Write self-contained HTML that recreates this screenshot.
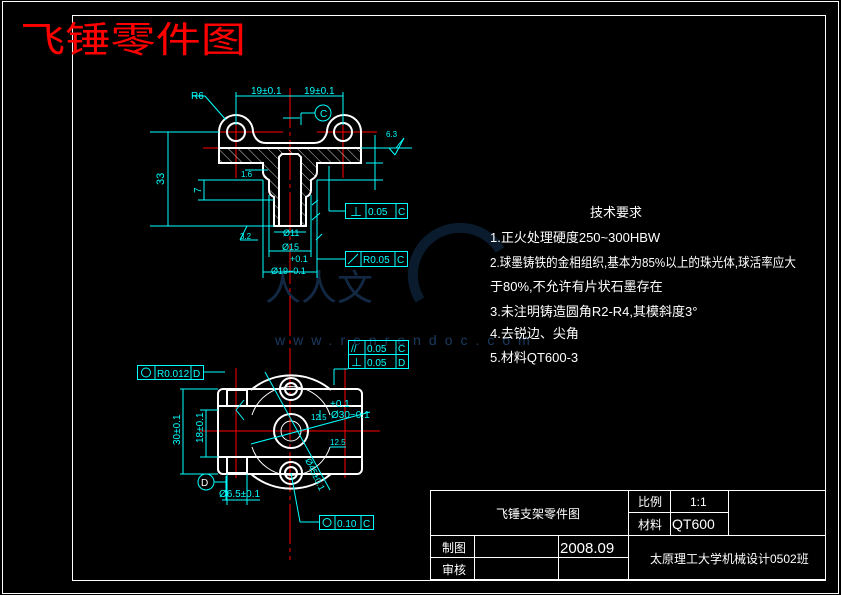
<!DOCTYPE html>
<html><head><meta charset="utf-8"><style>
html,body{margin:0;padding:0;background:#000;}
svg{display:block}
text{font-family:"Liberation Sans","Noto Sans CJK SC",sans-serif;}
</style></head><body>
<svg width="841" height="595" viewBox="0 0 841 595" xmlns="http://www.w3.org/2000/svg">
<defs>
<pattern id="h" width="7" height="7" patternUnits="userSpaceOnUse" patternTransform="rotate(-45)">
<line x1="0" y1="0" x2="0" y2="7" stroke="#fff" stroke-width="0.8"/>
</pattern>
</defs>
<rect width="841" height="595" fill="#000"/>
<!-- frames -->
<rect x="2.5" y="1.5" width="836" height="592" fill="none" stroke="#fff" stroke-width="1"/>
<rect x="72.5" y="15.5" width="753" height="565" fill="none" stroke="#fff" stroke-width="1"/>
<text x="20" y="52" font-size="36" fill="#f00" textLength="226" lengthAdjust="spacingAndGlyphs" font-family="'Noto Sans CJK SC',sans-serif">飞锤零件图</text>

<!-- watermark -->
<g opacity="0.35" fill="none" stroke="#1a4d80" stroke-width="10">
<path d="M420,300 A45,45 0 1 1 500,250"/>
</g>
<text x="265" y="300" font-size="36" fill="#1a3a60" opacity="0.7" font-family="'Noto Sans CJK SC',sans-serif">人人文</text>
<text x="275" y="345" font-size="14" fill="#1a3a60" letter-spacing="8">www.renrendoc.com</text>

<!-- ===== TOP VIEW ===== -->
<g stroke="#f00" stroke-width="1" fill="none">
<line x1="290" y1="88" x2="290" y2="560" stroke-dasharray="40,4,4,4"/>
<line x1="203" y1="132" x2="283" y2="132"/>
<line x1="317" y1="132" x2="377" y2="132"/>
<line x1="236" y1="110" x2="236" y2="178"/>
<line x1="343" y1="110" x2="343" y2="178"/>
<line x1="203" y1="148" x2="219" y2="148"/>
</g>
<path fill="url(#h)" fill-rule="evenodd" d="M219,148 L361,148 L361,163 L317,163 L317,172 Q317,177 311,180 L311,190 Q311,195 306,197 L306,226 L274,226 L274,197 Q269,195 269,190 L269,180 Q263,177 263,172 L263,163 L219,163 Z M279,154 L301,154 L301,226 L279,226 Z"/>
<g stroke="#fff" stroke-width="2" fill="none">
<path d="M219,148 L361,148 L361,163 L317,163 L317,172 Q317,177 311,180 L311,190 Q311,195 306,197 L306,226 L274,226 L274,197 Q269,195 269,190 L269,180 Q263,177 263,172 L263,163 L219,163 Z"/>
<path d="M279,226 L279,157 L282,154 L298,154 L301,157 L301,226"/>
<path d="M219,148 L219,132 A17,17 0 0 1 253,132 Q256,143 266,143 L314,143 Q324,143 327,132 A17,17 0 0 1 361,132 L361,148"/>
<circle cx="236" cy="132" r="9"/>
<circle cx="343" cy="132" r="9"/>
</g>
<g stroke="#0ff" stroke-width="1" fill="none">
<line x1="236" y1="92" x2="236" y2="125"/><line x1="343" y1="92" x2="343" y2="125"/>
<line x1="236" y1="96" x2="343" y2="96"/>
<line x1="150" y1="132" x2="219" y2="132"/><line x1="150" y1="226" x2="274" y2="226"/>
<line x1="168" y1="132" x2="168" y2="226"/>
<line x1="198" y1="180" x2="263" y2="180"/><line x1="198" y1="200" x2="274" y2="200"/>
<line x1="204" y1="180" x2="204" y2="200"/>
<line x1="192" y1="96" x2="205" y2="96"/><line x1="205" y1="96" x2="226" y2="120"/>
<line x1="283" y1="118" x2="300" y2="118"/><line x1="301" y1="113" x2="301" y2="125"/><line x1="301" y1="113" x2="315" y2="113"/>
<circle cx="323" cy="113" r="8"/>
<line x1="361" y1="148" x2="412" y2="148"/>
<line x1="396" y1="148" x2="404" y2="138"/><line x1="389" y1="148" x2="395" y2="155"/><line x1="395" y1="155" x2="404" y2="138"/>
<line x1="375" y1="135" x2="375" y2="190"/><line x1="366" y1="163" x2="383" y2="163"/><line x1="317" y1="180" x2="383" y2="180"/>
<line x1="329" y1="166" x2="329" y2="211"/><line x1="329" y1="211" x2="345" y2="211"/>
<line x1="274" y1="232" x2="306" y2="232"/><line x1="269" y1="251" x2="311" y2="251"/><line x1="263" y1="272" x2="317" y2="272"/>
<line x1="263" y1="180" x2="263" y2="278"/><line x1="317" y1="180" x2="317" y2="278"/>
<line x1="269" y1="195" x2="269" y2="257"/><line x1="311" y1="195" x2="311" y2="257"/>
<line x1="317" y1="259" x2="345" y2="259"/>
<line x1="247" y1="226" x2="240" y2="240"/><line x1="240" y1="240" x2="258" y2="240"/>
<line x1="245" y1="170" x2="268" y2="170"/>
<line x1="312" y1="205" x2="318" y2="200"/><line x1="312" y1="220" x2="320" y2="213"/><line x1="316" y1="240" x2="322" y2="234"/>
</g>
<g fill="#0ff">
<rect x="345.5" y="203.5" width="62" height="15" fill="none" stroke="#0ff"/>
<line x1="366" y1="204" x2="366" y2="218" stroke="#0ff"/><line x1="396" y1="204" x2="396" y2="218" stroke="#0ff"/>
<text x="350" y="216" font-size="12">⊥</text><text x="368" y="215" font-size="10">0.05</text><text x="398" y="215" font-size="10">C</text>
<rect x="345.5" y="251.5" width="62" height="15" fill="none" stroke="#0ff"/>
<line x1="361" y1="252" x2="361" y2="266" stroke="#0ff"/><line x1="395" y1="252" x2="395" y2="266" stroke="#0ff"/>
<line x1="348" y1="264" x2="358" y2="254" stroke="#0ff"/>
<text x="363" y="263" font-size="10">R0.05</text><text x="397" y="263" font-size="10">C</text>
<text x="191" y="99" font-size="10">R6</text>
<text x="251" y="94" font-size="10">19±0.1</text><text x="304" y="94" font-size="10">19±0.1</text>
<text x="164" y="185" font-size="11" transform="rotate(-90 164 185)">33</text>
<text x="201" y="193" font-size="10" transform="rotate(-90 201 193)">7</text>
<text x="320" y="117" font-size="10">C</text>
<text x="386" y="137" font-size="8">6.3</text>
<text x="241" y="177" font-size="8">1.6</text>
<text x="240" y="239" font-size="8">3.2</text>
<text x="283" y="236" font-size="9">Ø11</text><text x="282" y="250" font-size="9">Ø15</text>
<text x="290" y="262" font-size="9">+0.1</text><text x="271" y="274" font-size="9">Ø19−0.1</text>
</g>

<!-- ===== BOTTOM VIEW ===== -->
<g stroke="#f00" stroke-width="1" fill="none">
<line x1="200" y1="431" x2="380" y2="431"/>
<line x1="236" y1="368" x2="236" y2="478"/>
<line x1="345" y1="368" x2="345" y2="478"/>
</g>
<g stroke="#fff" stroke-width="2" fill="none">
<path d="M251,390 A62,62 0 0 1 331,390"/>
<path d="M251,474 A62,62 0 0 0 331,474"/>
<rect x="218" y="389" width="144" height="85" rx="5"/>
<line x1="218" y1="406" x2="362" y2="406"/><line x1="218" y1="457" x2="362" y2="457"/>
<rect x="227" y="390" width="20" height="16"/><rect x="227" y="457" width="20" height="16"/>
<circle cx="291" cy="389" r="11"/><circle cx="291" cy="389" r="6"/>
<circle cx="291" cy="473" r="11"/><circle cx="291" cy="473" r="6"/>
<circle cx="291" cy="431" r="17"/>
</g>
<g stroke="#fff" stroke-width="1" fill="none">
<circle cx="291" cy="431" r="10"/>
<path d="M252,415 A41,41 0 0 1 330,415"/>
<path d="M252,447 A41,41 0 0 0 330,447"/>
</g>
<g stroke="#0ff" stroke-width="1" fill="none">
<line x1="180" y1="389" x2="218" y2="389"/><line x1="180" y1="474" x2="218" y2="474"/>
<line x1="183" y1="389" x2="183" y2="474"/>
<line x1="200" y1="410" x2="218" y2="410"/><line x1="200" y1="457" x2="218" y2="457"/>
<line x1="206" y1="410" x2="206" y2="457"/>
<line x1="265" y1="372" x2="330" y2="490"/>
<line x1="251" y1="444" x2="370" y2="412"/>
<line x1="203" y1="372" x2="225" y2="372"/>
<line x1="334" y1="369" x2="334" y2="385"/><line x1="334" y1="369" x2="348" y2="369"/>
<line x1="214" y1="482" x2="226" y2="482"/><line x1="226" y1="476" x2="226" y2="500"/>
<circle cx="206" cy="482" r="8"/>
<line x1="222" y1="500" x2="260" y2="500"/><line x1="227" y1="474" x2="227" y2="505"/><line x1="247" y1="474" x2="247" y2="505"/>
<line x1="291" y1="473" x2="300" y2="522"/><line x1="300" y1="522" x2="319" y2="522"/>
<line x1="236" y1="410" x2="244" y2="420"/><line x1="236" y1="410" x2="244" y2="400"/>
<line x1="320" y1="410" x2="320" y2="420"/><line x1="330" y1="447" x2="346" y2="447"/>
</g>
<g fill="#0ff">
<rect x="137.5" y="365.5" width="66" height="14" fill="none" stroke="#0ff"/>
<line x1="155" y1="366" x2="155" y2="379" stroke="#0ff"/><line x1="191" y1="366" x2="191" y2="379" stroke="#0ff"/>
<circle cx="146" cy="372.5" r="4.5" fill="none" stroke="#0ff"/>
<text x="157" y="377" font-size="10">R0.012</text><text x="193" y="377" font-size="10">D</text>
<rect x="348.5" y="340.5" width="60" height="14" fill="none" stroke="#0ff"/>
<rect x="348.5" y="354.5" width="60" height="14" fill="none" stroke="#0ff"/>
<line x1="365" y1="341" x2="365" y2="368" stroke="#0ff"/><line x1="396" y1="341" x2="396" y2="368" stroke="#0ff"/>
<text x="351" y="352" font-size="10">//</text><text x="367" y="352" font-size="10">0.05</text><text x="398" y="352" font-size="10">C</text>
<text x="351" y="366" font-size="11">⊥</text><text x="367" y="366" font-size="10">0.05</text><text x="398" y="366" font-size="10">D</text>
<rect x="319.5" y="515.5" width="54" height="14" fill="none" stroke="#0ff"/>
<line x1="335" y1="516" x2="335" y2="529" stroke="#0ff"/><line x1="361" y1="516" x2="361" y2="529" stroke="#0ff"/>
<circle cx="327" cy="522.5" r="4" fill="none" stroke="#0ff"/>
<text x="337" y="527" font-size="10">0.10</text><text x="363" y="527" font-size="10">C</text>
<text x="180" y="445" font-size="10" transform="rotate(-90 180 445)">30±0.1</text>
<text x="203" y="443" font-size="10" transform="rotate(-90 203 443)">18±0.1</text>
<text x="201" y="486" font-size="10" fill="#fff">D</text>
<text x="219" y="497" font-size="10">Ø6.5±0.1</text>
<text x="330" y="407" font-size="10">+0.1</text><text x="331" y="418" font-size="10">Ø30−0.1</text>
<text x="311" y="420" font-size="8">12.5</text><text x="330" y="445" font-size="8">12.5</text>
<text x="305" y="460" font-size="9" transform="rotate(65 305 460)">Ø45±0.1</text>
</g>

<!-- tech requirements -->
<g fill="#fff" font-size="13" font-family="'Noto Sans CJK SC',sans-serif">
<text x="590" y="217">技术要求</text>
<text x="490" y="242">1.正火处理硬度250~300HBW</text>
<text x="490" y="267" textLength="306" lengthAdjust="spacingAndGlyphs">2.球墨铸铁的金相组织,基本为85%以上的珠光体,球活率应大</text>
<text x="490" y="291">于80%,不允许有片状石墨存在</text>
<text x="490" y="316">3.未注明铸造圆角R2-R4,其模斜度3°</text>
<text x="490" y="338">4.去锐边、尖角</text>
<text x="490" y="362">5.材料QT600-3</text>
</g>

<!-- title block -->
<g stroke="#fff" stroke-width="1" fill="none">
<rect x="430.5" y="490.5" width="395" height="89"/>
<line x1="430" y1="535.5" x2="826" y2="535.5"/>
<line x1="430" y1="557.5" x2="628" y2="557.5"/>
<line x1="628.5" y1="490" x2="628.5" y2="580"/>
<line x1="628" y1="512.5" x2="728" y2="512.5"/>
<line x1="670.5" y1="490" x2="670.5" y2="535"/>
<line x1="728.5" y1="490" x2="728.5" y2="535"/>
<line x1="474.5" y1="535" x2="474.5" y2="580"/>
<line x1="558.5" y1="535" x2="558.5" y2="580"/>
</g>
<g fill="#fff" font-family="'Noto Sans CJK SC',sans-serif" font-size="12">
<text x="496" y="518">飞锤支架零件图</text>
<text x="638" y="506">比例</text><text x="690" y="506" font-family="'Liberation Sans',sans-serif">1:1</text>
<text x="638" y="529">材料</text><text x="672" y="529" font-family="'Liberation Sans',sans-serif" font-size="14">QT600</text>
<text x="442" y="552">制图</text><text x="442" y="574">审核</text>
<text x="560" y="553" font-family="'Liberation Sans',sans-serif" font-size="15">2008.09</text>
<text x="650" y="563">太原理工大学机械设计0502班</text>
</g>
</svg>
</body></html>
